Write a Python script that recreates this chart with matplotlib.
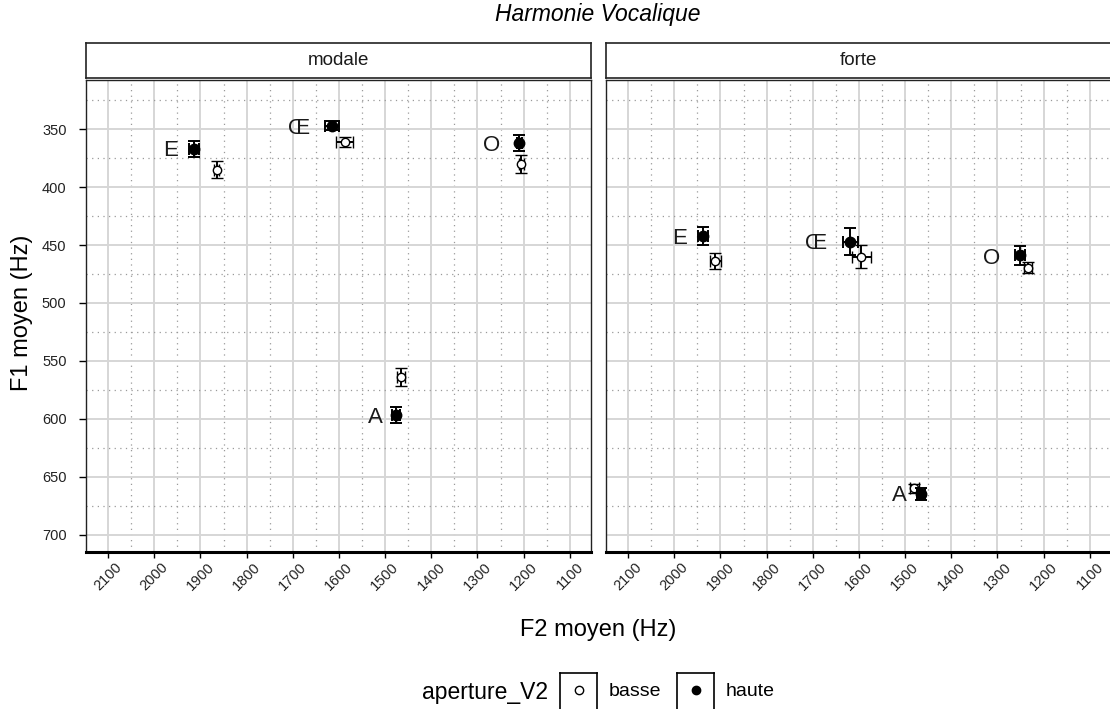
import numpy as np
import matplotlib
matplotlib.use("Agg")
import matplotlib.pyplot as plt

plt.rcParams['font.family'] = ['Liberation Sans', 'DejaVu Sans']

# données
voyelles = ['E', 'Œ', 'O', 'A']

# modale
f2_mod_haute = [1914, 1615, 1209, 1476]
f1_mod_haute = [367, 347, 362, 597]
f2se_mod_haute = [11, 16, 6, 9]
f1se_mod_haute = [7, 4, 7, 7]
f2_mod_basse = [1865, 1588, 1205, 1466]
f1_mod_basse = [385, 361, 380, 564]
f2se_mod_basse = [5, 19, 6, 8]
f1se_mod_basse = [7.5, 4, 8, 7.5]
lab_f2_mod = [1965, 1687, 1269, 1520]
lab_f1_mod = [368, 349, 364, 599]

# forte
f2_for_haute = [1938, 1619, 1251, 1466]
f1_for_haute = [442, 447, 459, 665]
f2se_for_haute = [11, 16, 10, 9]
f1se_for_haute = [8, 12, 8, 5]
f2_for_basse = [1911, 1595, 1234, 1480]
f1_for_basse = [463.5, 460, 469.5, 660]
f2se_for_basse = [12, 21, 9, 9]
f1se_for_basse = [7, 10, 5, 4]
lab_f2_for = [1988, 1694, 1312, 1512]
lab_f1_for = [444, 449, 462, 666]

panels = [
    ("modale", f2_mod_basse, f1_mod_basse, f2se_mod_basse, f1se_mod_basse,
     f2_mod_haute, f1_mod_haute, f2se_mod_haute, f1se_mod_haute, lab_f2_mod, lab_f1_mod),
    ("forte", f2_for_basse, f1_for_basse, f2se_for_basse, f1se_for_basse,
     f2_for_haute, f1_for_haute, f2se_for_haute, f1se_for_haute, lab_f2_for, lab_f1_for),
]

W, H = 1110, 709
fig = plt.figure(figsize=(W / 100, H / 100), dpi=100)

def fx(px):
    return px / W

def fy(py):
    return (H - py) / H

lefts = [86, 606]
pw = 505
top, bottom = 80, 552

for i, (nom, f2b, f1b, sxb, syb, f2h, f1h, sxh, syh, lx, ly) in enumerate(panels):
    ax = fig.add_axes([fx(lefts[i]), fy(bottom), fx(pw), (bottom - top) / H])
    ax.set_xlim(2148, 1054)
    ax.set_ylim(715, 307.5)
    ax.set_xticks(np.arange(1100, 2101, 100))
    ax.set_xticks(np.arange(1150, 2101, 100), minor=True)
    ax.set_yticks(np.arange(350, 701, 50))
    ax.set_yticks(np.arange(325, 701, 50), minor=True)
    ax.grid(which='major', color='#D6D6D6', linewidth=1.4, zorder=0)
    ax.grid(which='minor', color='#9A9A9A', linewidth=0.9, linestyle=(0, (1, 3.5)), zorder=0)
    ax.set_axisbelow(True)
    ax.tick_params(which='minor', length=0)
    ax.tick_params(axis='x', which='major', length=4, width=1, color='black', labelsize=10.5,
                   labelcolor='#222222', pad=2)
    ax.tick_params(axis='y', which='major', length=5, width=1, color='black', labelsize=10.5,
                   labelcolor='#222222', pad=9)
    for lab in ax.get_xticklabels():
        lab.set_rotation(45)
        lab.set_ha('center')
        lab.set_va('top')
    if i == 1:
        ax.tick_params(axis='y', which='major', length=0, labelleft=False)
    for s in ['left', 'right', 'top']:
        ax.spines[s].set_linestyle((0, (2, 1)))
        ax.spines[s].set_linewidth(1)
        ax.spines[s].set_color('#222222')
    ax.spines['bottom'].set_linewidth(2.2)
    ax.spines['bottom'].set_color('black')

    ax.errorbar(f2b, f1b, xerr=sxb, yerr=syb, fmt='o', ms=6, mfc='white', mec='black',
                mew=1, ecolor='black', elinewidth=1.4, capsize=4, capthick=1.4, zorder=3)
    ax.errorbar(f2h, f1h, xerr=sxh, yerr=syh, fmt='o', ms=7.5, mfc='black', mec='black',
                ecolor='black', elinewidth=1.4, capsize=4, capthick=1.4, zorder=4)
    for v, x, y in zip(voyelles, lx, ly):
        ax.text(x, y, v, fontsize=16, color='#1a1a1a', ha='center', va='center', zorder=5)

    # bandeau de facette
    sax = fig.add_axes([fx(lefts[i]), fy(78), fx(pw), 35 / H])
    sax.set_xticks([])
    sax.set_yticks([])
    for s in sax.spines.values():
        s.set_linewidth(1.2)
        s.set_color('#222222')
    sax.text(0.5, 0.5, nom, ha='center', va='center', fontsize=13.5, color='#1a1a1a',
             transform=sax.transAxes)

fig.text(fx(598), fy(14), 'Harmonie Vocalique', ha='center', va='center', fontsize=16.5,
         style='italic')
fig.text(fx(598), fy(630), 'F2 moyen (Hz)', ha='center', va='center', fontsize=17)
fig.text(fx(22), fy(313), 'F1 moyen (Hz)', ha='center', va='center', fontsize=17,
         rotation=90)

# légende
fig.text(fx(548), fy(692), 'aperture_V2', ha='right', va='center', fontsize=16.5)
for kx, fc, txt in [(560, 'white', 'basse'), (677, 'black', 'haute')]:
    kax = fig.add_axes([fx(kx), fy(710), fx(37), 37 / H])
    kax.set_xlim(0, 1)
    kax.set_ylim(0, 1)
    kax.set_xticks([])
    kax.set_yticks([])
    for s in kax.spines.values():
        s.set_linewidth(1.2)
    kax.plot([0.5], [0.55], 'o', ms=6, mfc=fc, mec='black', mew=1)
    fig.text(fx(kx + 49), fy(692), txt, ha='left', va='center', fontsize=14)

fig.savefig('out.png', dpi=100)
